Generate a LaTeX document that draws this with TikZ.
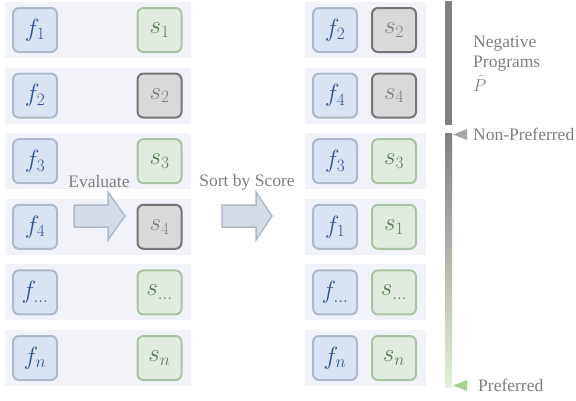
\documentclass[tikz,border=0pt]{standalone}
\usepackage{fontspec}
\setmainfont{Liberation Serif}
\usetikzlibrary{positioning}

\definecolor{rowbg}{HTML}{F1F3F9}
\definecolor{progfill}{HTML}{DAE3F3}
\definecolor{progline}{HTML}{ADB9CA}
\definecolor{progtext}{HTML}{2F5597}
\definecolor{goodfill}{HTML}{E2EBDF}
\definecolor{goodline}{HTML}{A9C4A5}
\definecolor{goodtext}{HTML}{587E58}
\definecolor{badfill}{HTML}{D9D9D9}
\definecolor{badline}{HTML}{767676}
\definecolor{badtext}{HTML}{808080}
\definecolor{arrowfill}{HTML}{D6DCE5}
\definecolor{notegray}{HTML}{7F7F7F}
\definecolor{bargray}{HTML}{808080}
\definecolor{bargreen}{HTML}{E2F0D9}
\definecolor{tripref}{HTML}{A9D18E}

\tikzset{
  cell/.style={line width=2pt, rounded corners=6pt, minimum size=44pt, inner sep=0pt,
    font=\fontsize{25}{30}\selectfont},
  prog/.style={cell, draw=progline, fill=progfill, text=progtext},
  good/.style={cell, draw=goodline, fill=goodfill, text=goodtext},
  bad/.style={cell, draw=badline, fill=badfill, text=badtext},
  rowbox/.style={fill=rowbg},
  blockarrow/.style={fill=arrowfill, draw=progline, line width=1.5pt},
  note/.style={text=notegray, inner sep=0pt, font=\fontsize{17.5}{20.5}\selectfont}
}

\begin{document}
\begin{tikzpicture}[x=1pt,y=-1pt]
    \useasboundingbox (0,0) rectangle (576,400);
    % programs with their scores
    \foreach \lab/\sc [count=\i] in {1/good,2/bad,3/good,4/bad,{\ldots}/good,n/good} {
      \pgfmathsetmacro\yc{30+65.6*(\i-1)}
      \fill[rowbox] (5,\yc-28) rectangle (191,\yc+28);
      \node[prog] (fL\i) at (35,\yc) {$f_{\lab}$};
      \node[\sc] (sL\i) at (159.5,\yc) {$s_{\lab}$};
    }
    % sorted
    \foreach \lab/\sc [count=\i] in {2/bad,4/bad,3/good,1/good,{\ldots}/good,n/good} {
      \pgfmathsetmacro\yc{30+65.6*(\i-1)}
      \fill[rowbox] (305,\yc-28) rectangle (426,\yc+28);
      \node[prog] (fR\i) at (335,\yc) {$f_{\lab}$};
      \node[\sc] (sR\i) at (394,\yc) {$s_{\lab}$};
    }
    \draw[blockarrow] (74,205) -- (108,205) -- (108,192) -- (125,216) -- (108,240) -- (108,227) -- (74,227) -- cycle;
    \draw[blockarrow] (222,205) -- (256,205) -- (256,192) -- (272,216) -- (256,240) -- (256,227) -- (222,227) -- cycle;
    \node[note] (evallab) at (99,182) {Evaluate};
    \node[note] (sortlab) at (247,182) {Sort by Score};
    % preference bar
    \fill[bargray] (445,1) rectangle (452,125);
    \shade[top color=bargray, bottom color=bargreen] (445,133) rectangle (452,387);
    \fill[bargray!70] (467,129) -- (467,140) -- (453,134.5) -- cycle;
    \fill[tripref] (467,380) -- (467,391) -- (453,385.5) -- cycle;
    \node[note, anchor=west] (nonpref) at (473,134.5) {Non-Preferred};
    \node[note, anchor=west] (pref) at (478,385.5) {Preferred};
    \node[note, anchor=base west] (neg) at (473,47) {Negative};
    \node[note, anchor=base west] (negprog) at (473,67) {Programs};
    \node[note, anchor=base west] (negset) at (473,91) {$\tilde{P}$};
\end{tikzpicture}
\end{document}
